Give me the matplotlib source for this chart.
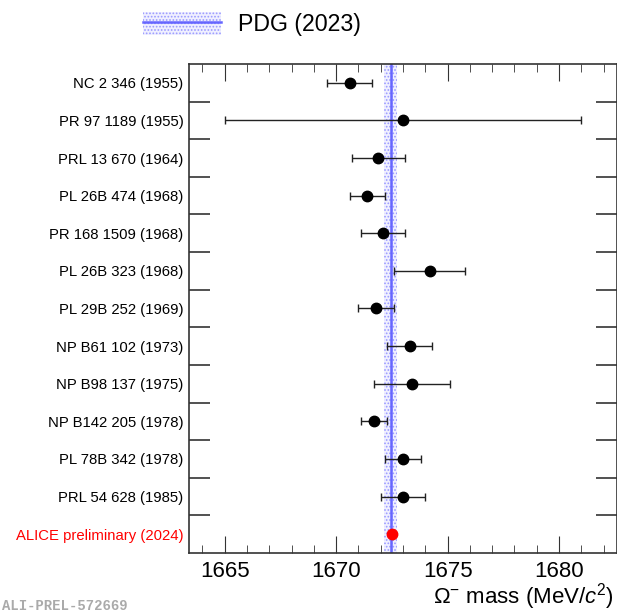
import matplotlib
matplotlib.use('Agg')
import matplotlib.pyplot as plt
import numpy as np
from matplotlib.patches import Patch
from matplotlib.lines import Line2D

plt.rcParams['font.family'] = ['Liberation Sans', 'DejaVu Sans']
plt.rcParams['mathtext.fontset'] = 'custom'
plt.rcParams['mathtext.rm'] = 'Liberation Sans'
plt.rcParams['mathtext.it'] = 'Liberation Sans:italic'
plt.rcParams['hatch.linewidth'] = 0.8

# measurements, top to bottom
labels = ['NC 2 346 (1955)', 'PR 97 1189 (1955)', 'PRL 13 670 (1964)',
          'PL 26B 474 (1968)', 'PR 168 1509 (1968)', 'PL 26B 323 (1968)',
          'PL 29B 252 (1969)', 'NP B61 102 (1973)', 'NP B98 137 (1975)',
          'NP B142 205 (1978)', 'PL 78B 342 (1978)', 'PRL 54 628 (1985)',
          'ALICE preliminary (2024)']
mass = [1670.6, 1673.0, 1671.9, 1671.4, 1672.1, 1674.2, 1671.8,
        1673.3, 1673.4, 1671.7, 1673.0, 1673.0, 1672.5]
err = [1.0, 8.0, 1.2, 0.8, 1.0, 1.6, 0.8, 1.0, 1.7, 0.6, 0.8, 1.0, 0.05]

pdg_mass = 1672.45
pdg_err = 0.29

fig = plt.figure(figsize=(6.17, 6.13), dpi=100)
ax = fig.add_axes([189/617, 1-553/613, 1-189/617, (553-64)/613])

n = len(labels)
ypos = np.arange(n)[::-1]

ax.axvspan(pdg_mass-pdg_err, pdg_mass+pdg_err, facecolor='#f0f0ff',
           edgecolor='#9999ff', hatch='.....', lw=0, zorder=1)
ax.axvline(pdg_mass, color='#6666ff', lw=1.8, zorder=2)

for i in range(n):
    c = 'red' if i == n-1 else 'black'
    ax.errorbar(mass[i], ypos[i], xerr=err[i], fmt='o', color=c, ecolor='#222222',
                ms=7.5, elinewidth=1, capsize=3, capthick=1, zorder=3)

ax.set_xlim(1663.4, 1682.6)
ax.set_ylim(-0.5, n-0.5)
ax.set_xticks([1665, 1670, 1675, 1680])
ax.set_xticks(np.arange(1664, 1683), minor=True)
ax.tick_params(axis='x', which='major', direction='in', length=12, top=True,
               labelsize=16, color='#333333', pad=6)
ax.tick_params(axis='x', which='minor', direction='in', length=6, top=True,
               color='#333333')
ax.set_yticks(ypos)
ax.set_yticklabels(labels)
ax.set_yticks(np.arange(n-1) + 0.5, minor=True)
ax.tick_params(axis='y', which='major', length=0, labelsize=10.7, pad=4)
ax.tick_params(axis='y', which='minor', direction='in', length=15, right=True,
               color='#333333', width=1.2)
ax.get_yticklabels()[-1].set_color('red')
for s in ax.spines.values():
    s.set_color('#333333')
    s.set_linewidth(1.2)

fig.text(614/617, 1-597/613, r'$\Omega^{\mathrm{-}}$ mass (MeV/$\it{c}^{2}$)',
         fontsize=16, ha='right', va='center')

h_patch = Patch(facecolor='#f0f0ff', edgecolor='#9999ff', hatch='.....', lw=0)
h_line = Line2D([], [], color='#6666ff', lw=1.8)
fig.legend([(h_patch, h_line)], ['PDG (2023)'], loc='center left',
           bbox_to_anchor=(143/617, 1-24/613), frameon=False, fontsize=16.7,
           handlelength=3.36, handleheight=1.2, handletextpad=0.73,
           borderpad=0, borderaxespad=0)

fig.text(0.003, 1-606/613, 'ALI-PREL-572669', family='Liberation Mono',
         fontweight='bold', color='#aaaaaa', fontsize=10, va='center')

fig.savefig('out.png', dpi=100)
